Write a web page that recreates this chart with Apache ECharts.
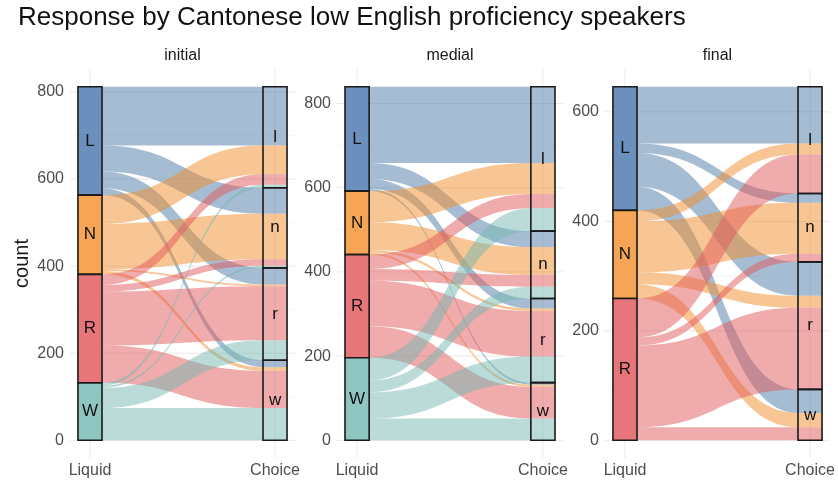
<!DOCTYPE html>
<html>
<head>
<meta charset="utf-8">
<script src="https://cdn.jsdelivr.net/npm/echarts@6/dist/echarts.min.js"></script>
<style>
  html, body { margin: 0; padding: 0; background: #ffffff; }
  #chart { width: 838px; height: 483px; }
</style>
</head>
<body>
<div id="chart"></div>
<script>
// ---- data -------------------------------------------------------------
const titleText = 'Response by Cantonese low English proficiency speakers';
const panelNames = ['initial', 'medial', 'final'];
const axisNames = ['Liquid', 'Choice'];
const liquidLevels = ['L', 'N', 'R', 'W'];
const choiceLevels = ['l', 'n', 'r', 'w'];

// counts[liquid][choice], rows L N R W, columns l n r w
const initialCounts = [
  [135, 60, 38, 16],
  [66, 104, 4, 8],
  [24, 15, 124, 86],
  [7, 5, 46, 74]
];
const medialCounts = [
  [181, 38, 24, 5],
  [74, 66, 6, 5],
  [34, 28, 108, 75],
  [54, 28, 62, 52]
];
const finalCounts = [
  [104, 17, 62, 43],
  [20, 93, 22, 26],
  [71, 15, 149, 24],
  [0, 0, 0, 0]
];

const initialTicks = [0, 200, 400, 600, 800];
const medialTicks = [0, 200, 400, 600, 800];
const finalTicks = [0, 200, 400, 600];
const initialMinor = [100, 300, 500, 700];
const medialMinor = [100, 300, 500, 700];
const finalMinor = [100, 300, 500];

// ---- styling ----------------------------------------------------------
const FONT = 'Liberation Sans, Arial, Helvetica, sans-serif';
const baseColors = ['#4E79A7', '#F28E2B', '#E15759', '#76B7B2'];
const boxColors = ['#6C90BE', '#F5A555', '#E7767B', '#8FC5C0'];
const gridDefs = [
  { left: 70, top: 69, width: 225, height: 389 },
  { left: 337, top: 69, width: 226, height: 389 },
  { left: 605, top: 69, width: 225, height: 389 }
];
const X_MIN = -0.108, X_MAX = 1.108, HW = 0.065;

const panelCounts = [initialCounts, medialCounts, finalCounts];
const panelTicks = [initialTicks, medialTicks, finalTicks];
const panelMinor = [initialMinor, medialMinor, finalMinor];

function sum(a) { return a.reduce((s, v) => s + v, 0); }

// stack strata (first level on top) and lodes inside each stratum
function layoutPanel(counts) {
  const nL = liquidLevels.length, nC = choiceLevels.length;
  const liqTot = counts.map(r => sum(r));
  const choTot = choiceLevels.map((_, j) => sum(counts.map(r => r[j])));
  const total = sum(liqTot);
  const liqBase = [], choBase = [];
  let acc = 0;
  for (let i = nL - 1; i >= 0; i--) { liqBase[i] = acc; acc += liqTot[i]; }
  acc = 0;
  for (let j = nC - 1; j >= 0; j--) { choBase[j] = acc; acc += choTot[j]; }
  const liqSpan = {}, choSpan = {};
  for (let i = 0; i < nL; i++) {
    let cur = liqBase[i] + liqTot[i];
    for (let j = 0; j < nC; j++) { liqSpan[i + '_' + j] = [cur - counts[i][j], cur]; cur -= counts[i][j]; }
  }
  for (let j = 0; j < nC; j++) {
    let cur = choBase[j] + choTot[j];
    for (let i = 0; i < nL; i++) { choSpan[i + '_' + j] = [cur - counts[i][j], cur]; cur -= counts[i][j]; }
  }
  const flows = [];
  for (let i = 0; i < nL; i++) for (let j = 0; j < nC; j++) {
    if (counts[i][j] <= 0) continue;
    const a = liqSpan[i + '_' + j], b = choSpan[i + '_' + j];
    flows.push([a[0], a[1], b[0], b[1], i]);
  }
  const strata = [];
  for (let i = 0; i < nL; i++) if (liqTot[i] > 0) strata.push([0, liqBase[i], liqBase[i] + liqTot[i], i, liquidLevels[i]]);
  for (let j = 0; j < nC; j++) if (choTot[j] > 0) strata.push([1, choBase[j], choBase[j] + choTot[j], -1, choiceLevels[j]]);
  return { total, flows, strata };
}

function renderGridLines(params, api) {
  const v = api.value(0), kind = api.value(1);
  if (kind === 2) {
    const ext = params.coordSys;
    const p = api.coord([v, 0]);
    return {
      type: 'line',
      shape: { x1: p[0], y1: ext.y, x2: p[0], y2: ext.y + ext.height },
      style: { stroke: '#ebebeb', lineWidth: 1 }
    };
  }
  const p0 = api.coord([X_MIN, v]);
  const p1 = api.coord([X_MAX, v]);
  return {
    type: 'line',
    shape: { x1: p0[0], y1: p0[1], x2: p1[0], y2: p1[1] },
    style: { stroke: kind === 0 ? '#e8e8e8' : '#f2f2f2', lineWidth: kind === 0 ? 1 : 0.6 }
  };
}

function renderFlow(params, api) {
  const lo1 = api.value(0), hi1 = api.value(1), lo2 = api.value(2), hi2 = api.value(3);
  const ci = api.value(4);
  const a1 = api.coord([HW, hi1]), a0 = api.coord([HW, lo1]);
  const b1 = api.coord([1 - HW, hi2]), b0 = api.coord([1 - HW, lo2]);
  const c1 = api.coord([1 + HW, hi2]), c0 = api.coord([1 + HW, lo2]);
  const k = (b1[0] - a1[0]) * 0.5;
  const d = [
    'M', a1[0], a1[1],
    'C', a1[0] + k, a1[1], b1[0] - k, b1[1], b1[0], b1[1],
    'L', c1[0], c1[1],
    'L', c0[0], c0[1],
    'L', b0[0], b0[1],
    'C', b0[0] - k, b0[1], a0[0] + k, a0[1], a0[0], a0[1],
    'Z'
  ].join(' ');
  return {
    type: 'path',
    shape: { pathData: d },
    style: { fill: baseColors[ci], opacity: 0.5, stroke: null }
  };
}

function renderStratum(params, api) {
  const side = api.value(0), lo = api.value(1), hi = api.value(2), ci = api.value(3);
  const label = api.value(4);
  const p0 = api.coord([side - HW, hi]);
  const p1 = api.coord([side + HW, lo]);
  const w = p1[0] - p0[0], h = p1[1] - p0[1];
  return {
    type: 'group',
    children: [
      {
        type: 'rect',
        shape: { x: p0[0], y: p0[1], width: w, height: h },
        style: { fill: ci >= 0 ? boxColors[ci] : 'rgba(0,0,0,0)', stroke: '#1a1a1a', lineWidth: 1.6 }
      },
      {
        type: 'text',
        style: {
          text: label, x: p0[0] + w / 2, y: p0[1] + h / 2,
          align: 'center', verticalAlign: 'middle',
          fontSize: 17, fontFamily: FONT, fill: '#111111'
        }
      }
    ]
  };
}

const grids = [], xAxes = [], yAxes = [], series = [], graphics = [];
panelCounts.forEach((counts, p) => {
  const lay = layoutPanel(counts);
  grids.push(gridDefs[p]);
  xAxes.push({
    gridIndex: p, type: 'value', min: X_MIN, max: X_MAX,
    axisLine: { show: false }, axisTick: { show: false }, splitLine: { show: false },
    axisLabel: {
      customValues: [0, 1],
      formatter: v => axisNames[Math.round(v)],
      color: '#4d4d4d', fontSize: 16, margin: 5, fontFamily: FONT
    }
  });
  yAxes.push({
    gridIndex: p, type: 'value',
    min: -0.05 * lay.total, max: 1.05 * lay.total,
    axisLine: { show: false }, axisTick: { show: false }, splitLine: { show: false },
    axisLabel: {
      customValues: panelTicks[p],
      color: '#4d4d4d', fontSize: 16, margin: 6, fontFamily: FONT
    },
    name: p === 0 ? 'count' : '',
    nameLocation: 'middle', nameRotate: 90, nameGap: 38,
    nameTextStyle: { fontSize: 20, color: '#1a1a1a', fontFamily: FONT }
  });
  const gl = panelTicks[p].map(v => [v, 0])
    .concat(panelMinor[p].map(v => [v, 1]))
    .concat([[0, 2], [1, 2]]);
  series.push({
    type: 'custom', xAxisIndex: p, yAxisIndex: p, z: 0, silent: true,
    renderItem: renderGridLines, data: gl, clip: false
  });
  series.push({
    type: 'custom', xAxisIndex: p, yAxisIndex: p, z: 1, silent: true,
    renderItem: renderFlow, data: lay.flows
  });
  series.push({
    type: 'custom', xAxisIndex: p, yAxisIndex: p, z: 2, silent: true,
    renderItem: renderStratum, data: lay.strata
  });
  graphics.push({
    type: 'text',
    x: gridDefs[p].left + gridDefs[p].width / 2, y: 56,
    style: {
      text: panelNames[p], align: 'center', verticalAlign: 'middle',
      fontSize: 16, fill: '#1a1a1a', fontFamily: FONT
    }
  });
});

const chart = echarts.init(document.getElementById('chart'), null, { renderer: 'canvas' });
chart.setOption({
  backgroundColor: '#ffffff',
  animation: false,
  title: {
    text: titleText, left: 13, top: 0,
    textStyle: { fontSize: 26, fontWeight: 'normal', color: '#111111', fontFamily: FONT }
  },
  grid: grids,
  xAxis: xAxes,
  yAxis: yAxes,
  series: series,
  graphic: graphics
});
</script>
</body>
</html>
